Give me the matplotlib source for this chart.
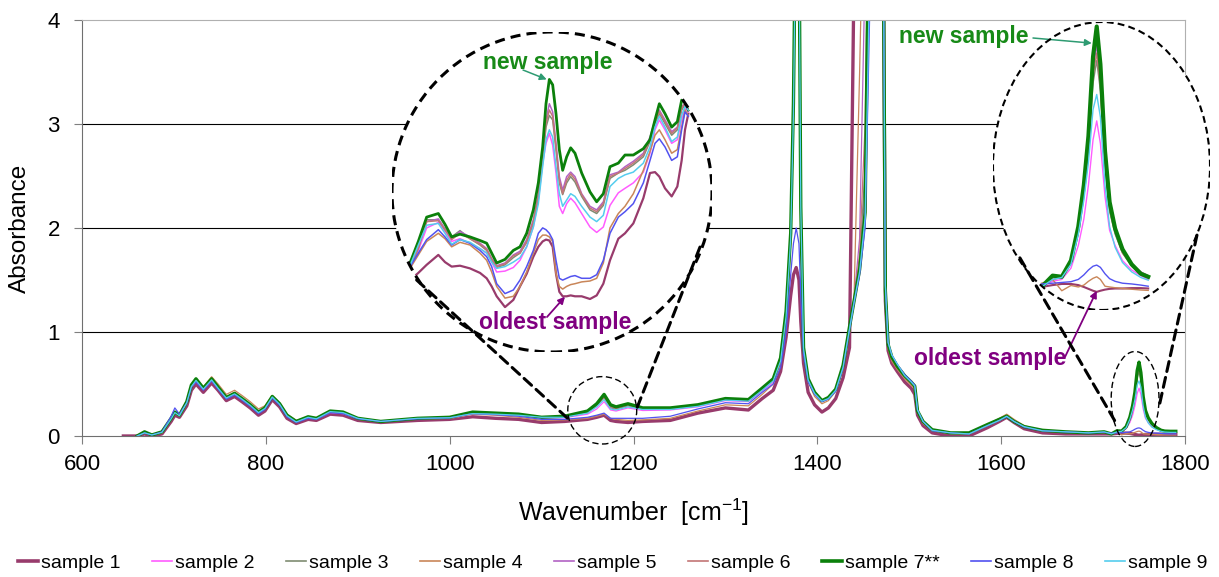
import numpy as np
import matplotlib

matplotlib.use("Agg")
import matplotlib.pyplot as plt
from matplotlib.lines import Line2D
from matplotlib.patches import ConnectionPatch, Ellipse

plt.rcParams["font.family"] = ["Liberation Sans", "DejaVu Sans"]
plt.rcParams["mathtext.fontset"] = "custom"
plt.rcParams["mathtext.rm"] = "Liberation Sans"
plt.rcParams["mathtext.it"] = "Liberation Sans:italic"

NA = np.nan

# ---- full spectra (wavenumber in cm-1, absorbance) ----
WAVENUMBER = [
    645, 660, 668, 676, 687, 697, 701, 706, 714, 719,
    724, 732, 741, 748, 757, 766, 774, 783, 792, 799,
    807, 815, 823, 833, 846, 855, 870, 884, 900, 925,
    965, 1000, 1025, 1050, 1075, 1100, 1125, 1150, 1160, 1168,
    1175, 1181, 1194, 1210, 1240, 1270, 1300, 1325, 1340, 1352,
    1360, 1366, 1371, 1374, 1377, 1380, 1382, 1385, 1390, 1397,
    1405, 1412, 1420, 1428, 1435, 1440, 1446, 1452, 1458, 1465,
    1471, 1474, 1477, 1481, 1487, 1495, 1502, 1506, 1509, 1515,
    1525, 1545, 1565, 1585, 1598, 1606, 1614, 1625, 1645, 1670,
    1695, 1712, 1720, 1726, 1731, 1736, 1740, 1743, 1745.5, 1748,
    1750, 1752, 1754.5, 1757, 1760, 1764, 1769, 1774, 1778, 1784,
    1790,
]

SAMPLE_1 = [
    0.00, 0.00, 0.02, 0.00, 0.02, 0.14, 0.20, 0.18, 0.29, 0.44,
    0.50, 0.42, 0.51, 0.44, 0.34, 0.38, 0.33, 0.27, 0.20, 0.24,
    0.35, 0.28, 0.17, 0.12, 0.16, 0.15, 0.21, 0.20, 0.15, 0.13,
    0.15, 0.16, 0.185, 0.17, 0.16, 0.13, 0.14, 0.16, 0.18, 0.20,
    0.15, 0.14, 0.13, 0.14, 0.15, 0.22, 0.27, 0.25, 0.36, 0.44,
    0.62, 0.95, 1.35, 1.55, 1.62, 1.50, 1.10, 0.70, 0.42, 0.30,
    0.23, 0.27, 0.36, 0.56, 0.85, 4.5, 6.0, 6.5, 6.5, 6.5,
    6.0, 1.30, 0.82, 0.70, 0.62, 0.52, 0.46, 0.40, 0.20, 0.10,
    0.03, 0.00, 0.00, 0.08, 0.14, 0.18, 0.13, 0.07, 0.03, 0.02,
    0.02, 0.02, 0.02, 0.025, 0.028, 0.028, 0.025, 0.02, 0.015, 0.01,
    0.007, 0.01, 0.013, 0.015, 0.016, 0.016, 0.017, 0.017, 0.016, 0.015,
    0.015,
]
SAMPLE_2 = [
    NA, 0.00, 0.03, 0.01, 0.03, 0.16, 0.22, 0.19, 0.31, 0.47,
    0.53, 0.45, 0.53, 0.46, 0.36, 0.40, 0.35, 0.29, 0.22, 0.26,
    0.37, 0.30, 0.19, 0.13, 0.175, 0.16, 0.225, 0.215, 0.165, 0.135,
    0.165, 0.17, 0.21, 0.205, 0.195, 0.175, 0.175, 0.21, 0.26, 0.33,
    0.25, 0.24, 0.27, 0.245, 0.25, 0.28, 0.34, 0.33, 0.43, 0.52,
    0.72, 1.15, 1.90, 3.10, 5.3, 4.9, 2.10, 0.83, 0.53, 0.40,
    0.33, 0.36, 0.44, 0.66, 1.02, 1.28, 1.60, 2.40, 6.5, 7.0,
    6.0, 1.40, 0.86, 0.74, 0.65, 0.56, 0.50, 0.46, 0.23, 0.13,
    0.05, 0.03, 0.02, 0.10, 0.15, 0.19, 0.14, 0.085, 0.05, 0.035,
    0.03, 0.035, 0.02, 0.035, 0.04, 0.07, 0.13, 0.20, 0.29, 0.41,
    0.46, 0.40, 0.26, 0.17, 0.13, 0.09, 0.065, 0.05, 0.04, 0.04,
    0.04,
]
SAMPLE_3 = [
    NA, 0.00, 0.035, 0.01, 0.035, 0.165, 0.225, 0.195, 0.32, 0.48,
    0.54, 0.455, 0.545, 0.465, 0.37, 0.41, 0.355, 0.295, 0.225, 0.265,
    0.375, 0.305, 0.195, 0.135, 0.18, 0.165, 0.235, 0.225, 0.17, 0.14,
    0.17, 0.175, 0.22, 0.21, 0.20, 0.18, 0.18, 0.225, 0.29, 0.37,
    0.27, 0.26, 0.29, 0.26, 0.26, 0.29, 0.35, 0.34, 0.45, 0.54,
    0.74, 1.18, 1.92, 3.15, 5.4, 5.0, 2.20, 0.84, 0.54, 0.41,
    0.335, 0.365, 0.445, 0.67, 1.04, 1.30, 1.65, 2.60, 6.5, 7.0,
    6.0, 1.40, 0.87, 0.75, 0.66, 0.57, 0.51, 0.47, 0.24, 0.13,
    0.055, 0.03, 0.02, 0.10, 0.15, 0.19, 0.14, 0.09, 0.05, 0.04,
    0.03, 0.04, 0.02, 0.045, 0.045, 0.085, 0.17, 0.27, 0.38, 0.56,
    0.62, 0.54, 0.34, 0.22, 0.16, 0.11, 0.075, 0.055, 0.048, 0.045,
    0.045,
]
SAMPLE_4 = [
    NA, 0.00, 0.03, 0.01, 0.03, 0.16, 0.22, 0.20, 0.32, 0.48,
    0.55, 0.47, 0.57, 0.50, 0.40, 0.44, 0.39, 0.33, 0.26, 0.29,
    0.39, 0.32, 0.21, 0.15, 0.185, 0.17, 0.235, 0.22, 0.16, 0.135,
    0.165, 0.17, 0.21, 0.20, 0.18, 0.15, 0.155, 0.17, 0.19, 0.21,
    0.17, 0.16, 0.15, 0.155, 0.17, 0.24, 0.30, 0.29, 0.40, 0.50,
    0.70, 1.10, 1.85, 3.00, 5.2, 4.8, 2.00, 0.80, 0.52, 0.38,
    0.31, 0.34, 0.43, 0.64, 1.00, 1.35, 3.50, 6.0, 6.5, 7.0,
    6.0, 1.35, 0.84, 0.72, 0.64, 0.55, 0.49, 0.45, 0.22, 0.12,
    0.05, 0.025, 0.02, 0.11, 0.17, 0.21, 0.16, 0.10, 0.05, 0.035,
    0.03, 0.03, 0.03, 0.04, 0.01, 0.024, 0.02, 0.025, 0.035, 0.043,
    0.047, 0.04, 0.022, 0.02, 0.018, 0.016, 0.014, 0.012, 0.011, 0.011,
    0.011,
]
SAMPLE_5 = [
    NA, 0.00, 0.035, 0.01, 0.035, 0.17, 0.23, 0.20, 0.325, 0.485,
    0.545, 0.46, 0.55, 0.47, 0.37, 0.41, 0.36, 0.30, 0.23, 0.27,
    0.38, 0.31, 0.20, 0.14, 0.18, 0.165, 0.235, 0.225, 0.17, 0.14,
    0.17, 0.175, 0.22, 0.215, 0.205, 0.185, 0.185, 0.23, 0.30, 0.38,
    0.28, 0.27, 0.30, 0.265, 0.265, 0.295, 0.355, 0.345, 0.455, 0.545,
    0.74, 1.19, 1.93, 3.20, 5.5, 5.1, 2.40, 0.86, 0.545, 0.415,
    0.34, 0.37, 0.45, 0.67, 1.04, 1.32, 1.90, 4.5, 6.5, 7.0,
    6.0, 1.40, 0.88, 0.76, 0.67, 0.575, 0.515, 0.475, 0.24, 0.135,
    0.055, 0.03, 0.02, 0.10, 0.155, 0.19, 0.14, 0.09, 0.05, 0.04,
    0.03, 0.04, 0.02, 0.04, 0.045, 0.085, 0.17, 0.28, 0.40, 0.60,
    0.66, 0.57, 0.36, 0.23, 0.17, 0.115, 0.08, 0.06, 0.05, 0.045,
    0.045,
]
SAMPLE_6 = [
    NA, 0.00, 0.03, 0.01, 0.03, 0.16, 0.22, 0.19, 0.32, 0.47,
    0.535, 0.455, 0.545, 0.47, 0.375, 0.42, 0.365, 0.30, 0.23, 0.27,
    0.375, 0.305, 0.195, 0.135, 0.175, 0.165, 0.23, 0.22, 0.165, 0.135,
    0.165, 0.175, 0.215, 0.21, 0.20, 0.18, 0.18, 0.225, 0.29, 0.37,
    0.275, 0.265, 0.295, 0.26, 0.26, 0.29, 0.35, 0.34, 0.45, 0.54,
    0.74, 1.18, 1.92, 3.10, 5.4, 5.0, 2.30, 0.85, 0.54, 0.41,
    0.335, 0.365, 0.445, 0.67, 1.04, 1.31, 1.75, 3.0, 6.5, 7.0,
    6.0, 1.40, 0.87, 0.75, 0.665, 0.57, 0.51, 0.47, 0.235, 0.13,
    0.05, 0.03, 0.02, 0.10, 0.155, 0.195, 0.145, 0.09, 0.05, 0.04,
    0.03, 0.04, 0.02, 0.04, 0.045, 0.085, 0.165, 0.27, 0.39, 0.58,
    0.64, 0.55, 0.35, 0.225, 0.165, 0.11, 0.078, 0.058, 0.05, 0.045,
    0.045,
]
SAMPLE_7 = [
    NA, 0.00, 0.04, 0.01, 0.04, 0.17, 0.23, 0.20, 0.33, 0.49,
    0.55, 0.46, 0.55, 0.47, 0.37, 0.41, 0.36, 0.30, 0.23, 0.27,
    0.38, 0.31, 0.20, 0.14, 0.185, 0.17, 0.24, 0.23, 0.17, 0.14,
    0.17, 0.18, 0.23, 0.22, 0.21, 0.18, 0.19, 0.24, 0.31, 0.40,
    0.30, 0.28, 0.31, 0.27, 0.27, 0.30, 0.36, 0.35, 0.46, 0.55,
    0.75, 1.20, 1.95, 3.20, 5.5, 5.0, 2.20, 0.85, 0.55, 0.42,
    0.34, 0.37, 0.45, 0.68, 1.05, 1.30, 1.60, 2.15, 6.5, 7.0,
    6.0, 1.40, 0.88, 0.76, 0.67, 0.58, 0.52, 0.48, 0.24, 0.14,
    0.06, 0.03, 0.03, 0.11, 0.16, 0.19, 0.14, 0.09, 0.055, 0.04,
    0.03, 0.04, 0.02, 0.05, 0.047, 0.09, 0.18, 0.29, 0.42, 0.63,
    0.71, 0.61, 0.38, 0.245, 0.175, 0.12, 0.08, 0.055, 0.047, 0.045,
    0.045,
]
SAMPLE_8 = [
    NA, 0.00, 0.03, 0.01, 0.04, 0.19, 0.27, 0.21, 0.32, 0.47,
    0.52, 0.44, 0.53, 0.45, 0.355, 0.395, 0.345, 0.285, 0.215, 0.255,
    0.365, 0.295, 0.185, 0.13, 0.17, 0.16, 0.225, 0.215, 0.165, 0.14,
    0.165, 0.175, 0.215, 0.205, 0.19, 0.16, 0.16, 0.18, 0.20, 0.22,
    0.17, 0.17, 0.17, 0.17, 0.19, 0.26, 0.32, 0.31, 0.42, 0.50,
    0.66, 1.00, 1.55, 1.85, 2.00, 1.85, 1.35, 0.78, 0.52, 0.40,
    0.33, 0.355, 0.43, 0.65, 1.02, 1.28, 1.55, 2.00, 4.5, 7.0,
    6.0, 1.45, 0.90, 0.78, 0.69, 0.59, 0.53, 0.49, 0.25, 0.14,
    0.05, 0.03, 0.02, 0.10, 0.15, 0.185, 0.14, 0.085, 0.05, 0.04,
    0.03, 0.035, 0.028, 0.03, 0.032, 0.034, 0.04, 0.052, 0.065, 0.075,
    0.078, 0.072, 0.055, 0.042, 0.035, 0.03, 0.028, 0.025, 0.022, 0.02,
    0.02,
]
SAMPLE_9 = [
    NA, 0.00, 0.03, 0.01, 0.035, 0.165, 0.225, 0.195, 0.32, 0.475,
    0.535, 0.45, 0.54, 0.46, 0.365, 0.405, 0.355, 0.295, 0.225, 0.265,
    0.375, 0.305, 0.195, 0.135, 0.18, 0.165, 0.235, 0.225, 0.17, 0.14,
    0.17, 0.175, 0.215, 0.21, 0.20, 0.18, 0.18, 0.22, 0.28, 0.35,
    0.26, 0.25, 0.28, 0.255, 0.255, 0.285, 0.345, 0.335, 0.44, 0.53,
    0.72, 1.15, 1.90, 3.10, 5.3, 4.9, 2.20, 0.84, 0.54, 0.41,
    0.335, 0.36, 0.44, 0.66, 1.03, 1.29, 1.58, 2.10, 5.0, 7.0,
    6.0, 1.45, 0.90, 0.78, 0.69, 0.58, 0.52, 0.48, 0.25, 0.14,
    0.055, 0.03, 0.02, 0.10, 0.15, 0.19, 0.14, 0.09, 0.05, 0.04,
    0.03, 0.04, 0.02, 0.04, 0.045, 0.08, 0.16, 0.25, 0.35, 0.49,
    0.53, 0.47, 0.29, 0.18, 0.125, 0.085, 0.06, 0.045, 0.038, 0.035,
    0.035,
]

# ---- magnified 1130-1214 cm-1 window shown in the left circle ----
ZOOM_WAVENUMBER = [
    1130.0, 1132.5, 1135.0, 1138.5, 1140.5, 1142.5, 1145.0, 1148.0, 1151.0, 1153.0,
    1154.5, 1156.0, 1158.5, 1161.0, 1163.0, 1165.0, 1167.0, 1168.5, 1169.8, 1170.8,
    1171.8, 1172.8, 1173.8, 1174.8, 1175.8, 1177.0, 1178.2, 1179.5, 1181.5, 1184.0,
    1186.0, 1188.0, 1190.0, 1192.5, 1194.5, 1197.0, 1200.0, 1202.0, 1203.5, 1204.8,
    1206.5, 1208.5, 1210.2, 1211.5, 1212.5, 1213.5,
]
ZOOM_1 = [
    0.156, 0.164, 0.173, 0.184, 0.176, 0.171, 0.172, 0.169, 0.164, 0.158,
    0.149, 0.138, 0.126, 0.134, 0.149, 0.163, 0.182, 0.193, 0.199, 0.201,
    0.200, 0.193, 0.163, 0.143, 0.138, 0.138, 0.139, 0.138, 0.138, 0.135,
    0.139, 0.152, 0.178, 0.202, 0.208, 0.219, 0.247, 0.275, 0.276, 0.271,
    0.258, 0.249, 0.260, 0.289, 0.323, 0.341,
]
ZOOM_2 = [
    0.169, 0.189, 0.214, 0.220, 0.210, 0.199, 0.202, 0.197, 0.191, 0.186,
    0.176, 0.165, 0.166, 0.170, 0.178, 0.193, 0.215, 0.245, 0.286, 0.308,
    0.319, 0.306, 0.275, 0.238, 0.230, 0.241, 0.247, 0.242, 0.230, 0.215,
    0.209, 0.215, 0.239, 0.253, 0.258, 0.264, 0.276, 0.297, 0.323, 0.334,
    0.323, 0.308, 0.312, 0.334, 0.347, 0.343,
]
ZOOM_3 = [
    0.170, 0.192, 0.223, 0.223, 0.212, 0.204, 0.211, 0.202, 0.195, 0.189,
    0.178, 0.170, 0.173, 0.181, 0.186, 0.198, 0.219, 0.247, 0.289, 0.326,
    0.339, 0.334, 0.301, 0.264, 0.251, 0.264, 0.271, 0.265, 0.249, 0.234,
    0.230, 0.239, 0.269, 0.275, 0.278, 0.284, 0.293, 0.310, 0.330, 0.341,
    0.330, 0.317, 0.323, 0.345, 0.351, 0.346,
]
ZOOM_4 = [
    0.169, 0.184, 0.199, 0.208, 0.202, 0.193, 0.198, 0.195, 0.186, 0.178,
    0.165, 0.149, 0.136, 0.138, 0.149, 0.165, 0.186, 0.201, 0.206, 0.206,
    0.204, 0.199, 0.163, 0.149, 0.146, 0.149, 0.151, 0.152, 0.154, 0.155,
    0.158, 0.175, 0.214, 0.230, 0.238, 0.252, 0.278, 0.299, 0.317, 0.323,
    0.312, 0.297, 0.301, 0.326, 0.345, 0.339,
]
ZOOM_5 = [
    0.171, 0.193, 0.221, 0.224, 0.213, 0.202, 0.210, 0.204, 0.197, 0.191,
    0.180, 0.172, 0.175, 0.184, 0.188, 0.201, 0.223, 0.252, 0.297, 0.334,
    0.352, 0.343, 0.308, 0.271, 0.256, 0.271, 0.276, 0.271, 0.252, 0.238,
    0.234, 0.243, 0.273, 0.276, 0.282, 0.288, 0.297, 0.315, 0.334, 0.345,
    0.334, 0.321, 0.326, 0.349, 0.352, 0.347,
]
ZOOM_6 = [
    0.169, 0.191, 0.221, 0.222, 0.212, 0.201, 0.208, 0.202, 0.196, 0.190,
    0.179, 0.171, 0.174, 0.183, 0.186, 0.199, 0.221, 0.249, 0.293, 0.330,
    0.345, 0.338, 0.304, 0.267, 0.252, 0.267, 0.274, 0.268, 0.251, 0.236,
    0.232, 0.241, 0.271, 0.275, 0.280, 0.286, 0.295, 0.312, 0.332, 0.343,
    0.332, 0.319, 0.325, 0.347, 0.352, 0.346,
]
ZOOM_7 = [
    0.175, 0.199, 0.226, 0.230, 0.218, 0.204, 0.207, 0.204, 0.200, 0.197,
    0.186, 0.175, 0.179, 0.189, 0.193, 0.208, 0.234, 0.264, 0.304, 0.352,
    0.379, 0.373, 0.341, 0.301, 0.278, 0.293, 0.303, 0.297, 0.275, 0.254,
    0.243, 0.252, 0.282, 0.286, 0.295, 0.295, 0.302, 0.312, 0.334, 0.352,
    0.341, 0.326, 0.332, 0.356, 0.354, 0.345,
]
ZOOM_8 = [
    0.171, 0.186, 0.201, 0.212, 0.204, 0.195, 0.201, 0.197, 0.189, 0.182,
    0.171, 0.152, 0.141, 0.145, 0.156, 0.171, 0.189, 0.208, 0.214, 0.212,
    0.208, 0.201, 0.178, 0.158, 0.156, 0.158, 0.160, 0.161, 0.158, 0.158,
    0.162, 0.178, 0.208, 0.226, 0.232, 0.241, 0.264, 0.289, 0.308, 0.313,
    0.304, 0.289, 0.293, 0.323, 0.343, 0.338,
]
ZOOM_9 = [
    0.172, 0.195, 0.217, 0.219, 0.208, 0.196, 0.201, 0.198, 0.191, 0.186,
    0.176, 0.169, 0.171, 0.176, 0.181, 0.193, 0.215, 0.241, 0.282, 0.312,
    0.323, 0.315, 0.282, 0.252, 0.238, 0.245, 0.252, 0.249, 0.238, 0.226,
    0.221, 0.228, 0.260, 0.269, 0.273, 0.276, 0.286, 0.304, 0.326, 0.338,
    0.326, 0.310, 0.315, 0.339, 0.349, 0.345,
]

LABELS = ["sample 1", "sample 2", "sample 3", "sample 4", "sample 5",
          "sample 6", "sample 7**", "sample 8", "sample 9"]
SPECTRA = [SAMPLE_1, SAMPLE_2, SAMPLE_3, SAMPLE_4, SAMPLE_5,
           SAMPLE_6, SAMPLE_7, SAMPLE_8, SAMPLE_9]
ZOOMED = [ZOOM_1, ZOOM_2, ZOOM_3, ZOOM_4, ZOOM_5, ZOOM_6, ZOOM_7, ZOOM_8, ZOOM_9]

COLORS = ["#983B6C", "#FF5CFF", "#7F8C72", "#C98659", "#B262C4",
          "#C27676", "#0B800B", "#5252F0", "#55CDEE"]
WIDTHS = [2.4, 0.9, 0.9, 0.9, 0.9, 0.9, 2.4, 0.9, 0.9]

GREEN_TEXT = "#178A17"
PURPLE_TEXT = "#800080"
ARROW_GREEN = "#2E9B72"

W, H = 1219, 577


def fig_box(left, top, right, bottom):
    """Pixel box of the reference picture -> figure fraction rect."""
    return [left / W, 1 - bottom / H, (right - left) / W, (bottom - top) / H]


def fig_xy(x, y):
    return x / W, 1 - y / H


fig = plt.figure(figsize=(W / 100, H / 100), dpi=100)
ax = fig.add_axes(fig_box(82, 20, 1185, 436))

for values, label, color, lw in zip(SPECTRA, LABELS, COLORS, WIDTHS):
    ax.plot(WAVENUMBER, values, color=color, lw=lw, label=label,
            solid_joinstyle="round", zorder=2)

for level in (1, 2, 3):
    ax.axhline(level, color="black", lw=0.8, zorder=1)

ax.set_xlim(600, 1800)
ax.set_ylim(0, 4)
ax.set_xticks(range(600, 1801, 200))
ax.set_yticks(range(0, 5))
ax.tick_params(axis="both", direction="out", length=6, width=0.8,
               color="#7f7f7f", labelsize=16)
ax.tick_params(axis="x", pad=7)
ax.tick_params(axis="y", pad=10)
for side in ("left", "bottom"):
    ax.spines[side].set_color("#6f6f6f")
for side in ("top", "right"):
    ax.spines[side].set_color("#b0b0b0")

ax.set_xlabel(r"Wavenumber  [cm$^{-1}$]", fontsize=18)
ax.set_ylabel("Absorbance", fontsize=17.5)
ax.xaxis.set_label_coords(0.5, -0.145)
ax.yaxis.set_label_coords(-0.046, 0.5)

# small dashed ellipses marking the magnified regions
ax.add_patch(Ellipse((1166, 0.247), 75, 0.648, fill=False, ec="black",
                     lw=1.0, ls=(0, (4.5, 2.5)), clip_on=False, zorder=4))
ax.add_patch(Ellipse((1745.7, 0.356), 52, 0.913, fill=False, ec="black",
                     lw=1.0, ls=(0, (4.5, 2.5)), clip_on=False, zorder=4))


def add_inset(box, xlim, ylim, edge_lw):
    ax_in = fig.add_axes(fig_box(*box))
    ax_in.set_xlim(*xlim)
    ax_in.set_ylim(*ylim)
    ax_in.axis("off")
    disc = Ellipse((0.5, 0.5), 1, 1, transform=ax_in.transAxes,
                   facecolor="white", edgecolor="none", zorder=0)
    ax_in.add_patch(disc)
    ax_in.add_patch(Ellipse((0.5, 0.5), 1, 1, transform=ax_in.transAxes,
                            fill=False, ec="black", lw=edge_lw,
                            ls=(0, (3.3, 2.0)), zorder=5))
    return ax_in, disc


# left circle: 1130-1214 cm-1 region
ax_left, disc_left = add_inset((392, 32, 712, 352), (1124.6, 1220.6),
                               (0.0761, 0.4317), 2.2)
inset_widths = [1.6, 1.1, 1.1, 1.1, 1.1, 1.1, 2.0, 1.1, 1.1]
for values, color, lw in zip(ZOOMED, COLORS, inset_widths):
    line, = ax_left.plot(ZOOM_WAVENUMBER, values, color=color, lw=lw, zorder=2)
    line.set_clip_path(disc_left)

# right ellipse: carbonyl band around 1750 cm-1
ax_right, disc_right = add_inset((993, 22, 1210, 310), (1693.6, 1811.6),
                                 (-0.041, 0.722), 1.5)
wn = np.array(WAVENUMBER)
band = (wn >= 1719) & (wn <= 1779)
right_widths = [1.5, 1.0, 1.0, 1.0, 1.0, 1.0, 3.0, 1.0, 1.0]
for values, color, lw in zip(SPECTRA, COLORS, right_widths):
    line, = ax_right.plot(wn[band], np.array(values)[band], color=color,
                          lw=lw, zorder=2)
    line.set_clip_path(disc_right)

# dashed connectors between the small marks and the magnified views
connector_style = dict(color="black", lw=2.2, ls=(0, (3.3, 2.0)), zorder=6)
for ax_in, corner, target in [
    (ax_left, (0.077, 0.225), (1132.3, 0.1375)),
    (ax_left, (0.9625, 0.328), (1202.9, 0.25)),
    (ax_right, (0.124, 0.181), (1725.0, 0.125)),
    (ax_right, (0.94, 0.26), (1771.7, 0.279)),
]:
    con = ConnectionPatch(xyA=corner, coordsA=ax_in.transAxes,
                          xyB=target, coordsB=ax.transData, **connector_style)
    fig.add_artist(con)

# labels for newest / oldest sample
text_style = dict(fontsize=16.5, fontweight="bold", ha="center", va="center")
fig.text(*fig_xy(548, 62), "new sample", color=GREEN_TEXT, **text_style)
fig.text(*fig_xy(555, 322), "oldest sample", color=PURPLE_TEXT, **text_style)
fig.text(*fig_xy(964, 36), "new sample", color=GREEN_TEXT, **text_style)
fig.text(*fig_xy(990, 358), "oldest sample", color=PURPLE_TEXT, **text_style)

green_arrow = dict(arrowstyle="-|>", color=ARROW_GREEN, lw=1.1,
                   mutation_scale=10, shrinkA=0, shrinkB=0)
purple_arrow = dict(arrowstyle="-|>", color=PURPLE_TEXT, lw=1.3,
                    mutation_scale=10, shrinkA=0, shrinkB=0)
ax_left.annotate("", xy=(1171.0, 0.379), xytext=fig_xy(523, 70),
                 textcoords="figure fraction", arrowprops=green_arrow)
ax_left.annotate("", xy=(1176.5, 0.1376), xytext=fig_xy(547, 317),
                 textcoords="figure fraction", arrowprops=purple_arrow)
ax_right.annotate("", xy=(1747.3, 0.666), xytext=fig_xy(1033, 38),
                  textcoords="figure fraction", arrowprops=green_arrow)
ax_right.annotate("", xy=(1750.0, 0.01), xytext=fig_xy(1065, 357),
                  textcoords="figure fraction", arrowprops=purple_arrow)

handles = [Line2D([], [], color=c, lw=(2.6 if lw > 2 else 1.2))
           for c, lw in zip(COLORS, WIDTHS)]
fig.legend(handles, LABELS, loc="center", bbox_to_anchor=(0.5025, 0.024),
           ncol=9, frameon=False, fontsize=14, handlelength=1.05,
           handletextpad=0.15, columnspacing=1.6, borderpad=0)

fig.savefig("out.png", dpi=100)
plt.close(fig)
